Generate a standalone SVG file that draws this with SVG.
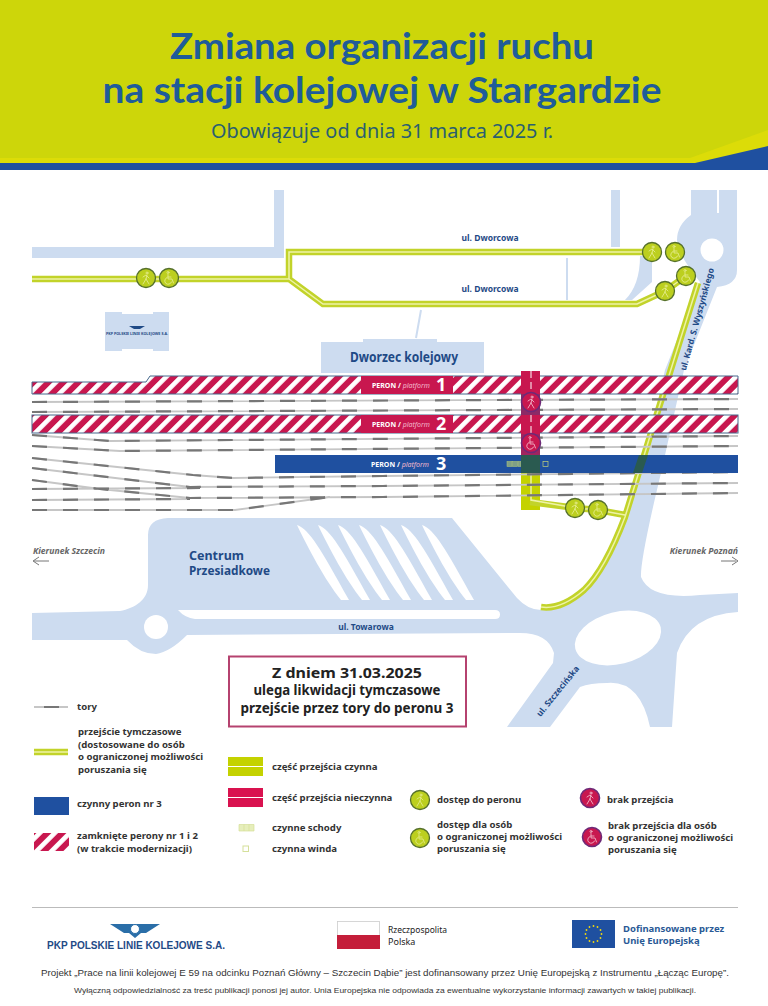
<svg xmlns="http://www.w3.org/2000/svg" width="768" height="1006" viewBox="0 0 768 1006">
<style>
text{font-family:"Noto Sans","Open Sans","Liberation Sans",sans-serif}
.ttl{font-family:Lato,"Noto Sans",sans-serif;font-size:36px;font-weight:700;fill:#1f5c99}
.road{fill:#cddcf0}
.lbl{fill:#1f4a86;font-weight:700;font-size:8.5px}
.leg{fill:#333;font-weight:700;font-size:9.6px}
.dir{fill:#666;font-weight:700;font-style:italic;font-size:8.6px}
.go{fill:none;stroke:#c2d32a;stroke-width:6.5}
.gi{fill:none;stroke:#eef3a6;stroke-width:1.5}
.tb{fill:none;stroke:#c6c6c6;stroke-width:1.8}
.td{fill:none;stroke:#777;stroke-width:2.2;stroke-dasharray:15 16}
.plat{stroke:#46688c;stroke-width:1}
.pt{fill:#fff;font-weight:700;font-size:7px}
.pi{fill:#f3b9cc;font-weight:400;font-style:italic;font-size:7px}
.pn{fill:#fff;font-weight:700;font-size:18px}
.ok{fill:#bccf1f;stroke:#55702c;stroke-width:1.3}
.no{fill:#c8174f;stroke:#6d2a78;stroke-width:1.6}
.ic{fill:none;stroke:#eef3a6;stroke-width:.9;stroke-linecap:round;opacity:.8}
.icl{fill:none;stroke:#eef3a6;stroke-width:.9;stroke-linecap:round;opacity:.75}
.icn{fill:none;stroke:#f8cfdc;stroke-width:.9;stroke-linecap:round;opacity:.85}
.st{fill:#7f9f86;stroke:#a8c07a;stroke-width:.6}
</style>
<defs>
<pattern id="hatch" patternUnits="userSpaceOnUse" width="10.6" height="10.6" patternTransform="rotate(45)">
<rect width="10.6" height="10.6" fill="#c8174f"/><rect width="4.7" height="10.6" fill="#fff"/>
</pattern>
<g id="ped"><circle cx="1" cy="-5" r="1"/><path d="M1-3 0 1M-3-1 0-3 3 0M0 1 3 6M0 1-3 6"/></g>
<g id="wc"><circle cx="-1" cy="-5.5" r="1"/><path d="M-1-3.500V1H3L4.500 5M-1-1H2M-2-.5A3.500 3.500 0 1 0 2.500 4"/></g>
</defs>
<rect width="768" height="1006" fill="#fff"/>
<g id="header">
<rect width="768" height="165" fill="#cdd60a"/>
<path d="M0 158H690L768 130V163H0Z" fill="#dcdc08"/>
<path d="M0 163H695L768 146V170H0Z" fill="#1f50a0"/>
<text class="ttl" x="382" y="59" text-anchor="middle" textLength="424" lengthAdjust="spacingAndGlyphs">Zmiana organizacji ruchu</text>
<text class="ttl" x="382" y="103" text-anchor="middle" textLength="559" lengthAdjust="spacingAndGlyphs">na stacji kolejowej w Stargardzie</text>
<text x="382" y="138" text-anchor="middle" font-size="20" fill="#2a5f70" textLength="342" lengthAdjust="spacingAndGlyphs">Obowiązuje od dnia 31 marca 2025 r.</text>
</g>
<g id="roads">
<path class="road" d="M32 247H274V190H284V258H32Z"/>
<path class="road" d="M611 190H620V247H611ZM640 256H652V282L632 300H625Q640 285 640 256Z"/>
<path class="road" d="M32 613L120 611C135 608 148 600 148 585V535Q148 519 168 518H452L517 598Q528 610 541 610Q561 610 584 593Q605 570 625 517L651 433L665 370L700 282Q678 255 677 240Q677 225 691 215V190H717V213H719V190H737V270Q737 285 717 287L684 370L661 473Q640 560 641 577Q650 600 700 595L738 593V612Q690 615 677 653L672 727H650Q640 680 607 683Q590 683 580 687L550 727H507L553 663L554 653Q548 633 520 633L187 635Q170 652 156 654Q140 654 127 640H32Z"/>
<circle cx="712" cy="250" r="11.500" fill="#fff"/>
<ellipse cx="618" cy="638" rx="44" ry="26" transform="rotate(-14 618 638)" fill="#fff"/>
<circle cx="156" cy="627" r="12" fill="#fff"/>
<path d="M178 610H495Q500 610 500 614.500Q500 619 495 619H195Q185 618 178 610Z" fill="#fff"/>
<g fill="#fff">
<path id="ps" d="M297 525C310 530 320 548 349 600H341C325 580 308 548 297 525Z"/>
<use href="#ps" x="21"/><use href="#ps" x="41"/><use href="#ps" x="62"/><use href="#ps" x="83"/><use href="#ps" x="104"/><use href="#ps" x="125"/>
</g>
<path d="M421 310 416 338M567 258V300" stroke="#cddcf0" stroke-width="2" fill="none"/>
</g>
<g id="pkp-building">
<path class="road" d="M105 312H122V314H153V312H169V351H153V349H122V351H105Z"/>
<path d="M129 326H145L140 329H134Z" fill="#1f4a86"/>
<text x="137" y="335" text-anchor="middle" font-size="3.700" font-weight="700" fill="#1f4a86">PKP POLSKIE LINIE KOLEJOWE S.A.</text>
</g>
<g id="dworzec">
<path class="road" d="M321 342H363V339H437V342H484V373H321Z"/>
<text x="404" y="362" text-anchor="middle" font-size="13.500" font-weight="700" fill="#1f4a86" textLength="108" lengthAdjust="spacingAndGlyphs">Dworzec kolejowy</text>
</g>
<g id="road-labels">
<text class="lbl" x="490" y="241" text-anchor="middle">ul. Dworcowa</text>
<text class="lbl" x="490" y="292" text-anchor="middle">ul. Dworcowa</text>
<text class="lbl" x="366" y="630" text-anchor="middle">ul. Towarowa</text>
<text class="lbl" transform="translate(700 320) rotate(-74.500)" text-anchor="middle">ul. Kard. S. Wyszyńskiego</text>
<text class="lbl" transform="translate(560 693) rotate(-51)" text-anchor="middle">ul. Szczecińska</text>
<text x="189" y="560" font-size="12.500" font-weight="700" fill="#1f4a86">Centrum</text>
<text x="189" y="575" font-size="12.500" font-weight="700" fill="#1f4a86" textLength="81" lengthAdjust="spacingAndGlyphs">Przesiadkowe</text>
<text class="dir" x="33" y="554">Kierunek Szczecin</text>
<text class="dir" x="738" y="554" text-anchor="end">Kierunek Poznań</text>
<path d="M49 561H34M39 557 33 561 39 565M721 561H736M732 557 738 561 732 565" fill="none" stroke="#777" stroke-width="1"/>
</g>
<g id="crossing-lower">
<rect x="521" y="473" width="19" height="37" fill="#c4d200"/>
</g>
<g id="connectors">
<path class="go" d="M32 279H289V252H652M289 279L323 304H637L665 291M665 291L686 276M698 283L651 433L625 517Q605 570 584 590Q561 610 541 607M530 502L576 508L598 510L625 515"/>
<path class="gi" d="M32 279H289V252H652M289 279L323 304H637L665 291M665 291L686 276M698 283L651 433L625 517Q605 570 584 590Q561 610 541 607M531 473V500L576 508L598 510L625 515"/>
</g>
<g id="tracks">
<path class="tb" d="M32 402 738 399M32 412 738 409M32 435 110 441 738 436M32 446 120 451 738 446M32 458 193 475 233 478 383 476 738 472M32 468 190 487 383 486 738 483M32 480 100 489 190 498 383 497 738 493M32 489 200 488M32 500 190 499M32 510 235 510 330 497"/>
<path class="td" d="M32 402 738 399M32 412 738 409M32 435 110 441 738 436M32 446 120 451 738 446M32 458 193 475 233 478 383 476 738 472M32 468 190 487 383 486 738 483M32 480 100 489 190 498 383 497 738 493M32 489 200 488M32 500 190 499M32 510 235 510 330 497"/>
</g>
<g id="platform-1">
<path class="plat" d="M32 382H146L150 376H738V394H32Z" fill="url(#hatch)"/>
<rect x="361" y="376" width="92" height="18" fill="#c8174f"/>
<text x="372" y="388" class="pt">PERON / <tspan class="pi">platform</tspan></text>
<text x="436" y="391" class="pn">1</text>
</g>
<g id="platform-2">
<rect class="plat" x="32" y="415" width="706" height="18" fill="url(#hatch)"/>
<rect x="361" y="415" width="92" height="18" fill="#c8174f"/>
<text x="372" y="427" class="pt">PERON / <tspan class="pi">platform</tspan></text>
<text x="436" y="430" class="pn">2</text>
</g>
<g id="platform-3">
<rect x="275" y="455" width="463" height="18" fill="#1f50a0"/>
<text x="371" y="467" class="pt">PERON / <tspan class="pi">platform</tspan></text>
<text x="436" y="470" class="pn">3</text>
<path d="M639 455H648L642 473H633Z" fill="#2a5a50"/>
<rect class="st" x="507" y="461.500" width="5" height="5"/><rect class="st" x="512.500" y="461.500" width="5" height="5"/><rect class="st" x="518" y="461.500" width="3" height="5"/>
<rect x="543" y="461.500" width="5" height="5" fill="none" stroke="#c4d27a" stroke-width=".7"/>
</g>
<g id="crossing">
<rect x="521" y="371" width="19" height="23" fill="#c8174f"/>
<rect x="521" y="394" width="19" height="21" fill="#8c2a66"/>
<rect x="521" y="415" width="19" height="19" fill="#c8174f"/>
<rect x="521" y="434" width="19" height="21" fill="#a0245f"/>
<rect x="521" y="455" width="19" height="18" fill="#2a5a50"/>
<path d="M531 371V434" stroke="#fff" stroke-width="1" stroke-dasharray="7 4"/>
</g>
<g id="no-ped"><circle class="no" cx="531" cy="402" r="9.500"/><use class="icn" href="#ped" x="531" y="402"/></g>
<g id="no-wc"><circle class="no" cx="531" cy="443" r="9.500"/><use class="icn" href="#wc" x="531" y="443"/></g>
<g id="n1"><circle class="ok" cx="146" cy="278" r="9.500"/><use class="ic" href="#ped" x="146" y="278"/></g>
<g id="n2"><circle class="ok" cx="169" cy="278" r="9.500"/><use class="ic" href="#wc" x="169" y="278"/></g>
<g id="n3"><circle class="ok" cx="652" cy="252" r="9.500"/><use class="ic" href="#ped" x="652" y="252"/></g>
<g id="n4"><circle class="ok" cx="675" cy="252" r="9.500"/><use class="ic" href="#wc" x="675" y="252"/></g>
<g id="n5"><circle class="ok" cx="665" cy="291" r="9.500"/><use class="ic" href="#ped" x="665" y="291"/></g>
<g id="n6"><circle class="ok" cx="686" cy="276" r="9.500"/><use class="ic" href="#wc" x="686" y="276"/></g>
<g id="n7"><circle class="ok" cx="575" cy="508" r="9.500"/><use class="ic" href="#ped" x="575" y="508"/></g>
<g id="n8"><circle class="ok" cx="598" cy="510" r="9.500"/><use class="ic" href="#wc" x="598" y="510"/></g>
<g id="notice">
<rect x="229" y="656.500" width="237" height="70" fill="#fff" stroke="#b5426f" stroke-width="2"/>
<text x="347" y="678" text-anchor="middle" font-size="14" font-weight="700" fill="#222" textLength="150" lengthAdjust="spacingAndGlyphs">Z dniem 31.03.2025</text>
<text x="347" y="695" text-anchor="middle" font-size="14" font-weight="700" fill="#222" textLength="187" lengthAdjust="spacingAndGlyphs">ulega likwidacji tymczasowe</text>
<text x="347" y="713" text-anchor="middle" font-size="14" font-weight="700" fill="#222" textLength="213" lengthAdjust="spacingAndGlyphs">przejście przez tory do peronu 3</text>
</g>
<g id="legend">
<path d="M34 707H68" stroke="#c6c6c6" stroke-width="2"/><path d="M44 707H59" stroke="#777" stroke-width="2"/>
<text class="leg" x="77" y="710">tory</text>
<path d="M34 752H68" stroke="#c2d32a" stroke-width="6.500"/><path d="M34 752H68" stroke="#eef3a6" stroke-width="1.300"/>
<text class="leg" x="78" y="735">przejście tymczasowe</text>
<text class="leg" x="78" y="748">(dostosowane do osób</text>
<text class="leg" x="78" y="760">o ograniczonej możliwości</text>
<text class="leg" x="78" y="773">poruszania się</text>
<rect x="34" y="797" width="35" height="18" fill="#1f50a0"/>
<text class="leg" x="77" y="807">czynny peron nr 3</text>
<rect x="34" y="833" width="35" height="18" fill="url(#hatch)"/>
<text class="leg" x="77" y="839">zamknięte perony nr 1 i 2</text>
<text class="leg" x="77" y="852">(w trakcie modernizacji)</text>
<rect x="228" y="757" width="35" height="19" fill="#c4d200"/><path d="M228 766.500H263" stroke="#fff" stroke-width="1"/>
<text class="leg" x="272" y="770">część przejścia czynna</text>
<rect x="228" y="788" width="35" height="19" fill="#d9124f"/><path d="M228 797.500H263" stroke="#fff" stroke-width="1"/>
<text class="leg" x="272" y="801">część przejścia nieczynna</text>
<path d="M239 824.500H254V831H239ZM244 824.500V831M249 824.500V831" fill="#e6eebb" stroke="#d5e09a" stroke-width=".7"/>
<text class="leg" x="272" y="831">czynne schody</text>
<rect x="243" y="846" width="5.500" height="5.500" fill="none" stroke="#d5e09a" stroke-width="1"/>
<text class="leg" x="272" y="852">czynna winda</text>
<circle class="ok" cx="420" cy="800" r="9.500"/><use class="icl" href="#ped" x="420" y="800"/>
<text class="leg" x="437" y="803">dostęp do peronu</text>
<circle class="ok" cx="420" cy="838" r="9.500"/><use class="icl" href="#wc" x="420" y="838"/>
<text class="leg" x="437" y="828">dostęp dla osób</text>
<text class="leg" x="437" y="840">o ograniczonej możliwości</text>
<text class="leg" x="437" y="852">poruszania się</text>
<circle class="no" cx="590" cy="798" r="9.500"/><use class="icn" href="#ped" x="590" y="798"/>
<text class="leg" x="607" y="803">brak przejścia</text>
<circle class="no" cx="592" cy="837" r="9.500"/><use class="icn" href="#wc" x="592" y="837"/>
<text class="leg" x="608" y="829">brak przejścia dla osób</text>
<text class="leg" x="608" y="841">o ograniczonej możliwości</text>
<text class="leg" x="608" y="853">poruszania się</text>
</g>
<g id="footer">
<path d="M32 907.500H738" stroke="#bbb" stroke-width="1"/>
<g id="pkp-logo">
<path d="M110 924H160L146 933H141L135 938L129 933H124Z" fill="#2a6ea8"/>
<circle cx="135" cy="929" r="4.500" fill="#fff" stroke="#2a6ea8"/>
<text x="136" y="949" text-anchor="middle" font-size="11.500" font-weight="700" fill="#1f4a86" textLength="178" lengthAdjust="spacingAndGlyphs" style="font-family:'Liberation Sans',sans-serif">PKP POLSKIE LINIE KOLEJOWE S.A.</text>
</g>
<g id="pl-flag">
<rect x="337.500" y="921.500" width="42" height="14" fill="#fff" stroke="#ccc" stroke-width=".8"/>
<rect x="337" y="935" width="43" height="14" fill="#c41e3a"/>
<text x="388" y="933" font-size="9" fill="#222" textLength="59" lengthAdjust="spacingAndGlyphs">Rzeczpospolita</text>
<text x="388" y="945" font-size="9" fill="#222">Polska</text>
</g>
<g id="eu-flag">
<rect x="572" y="920" width="43" height="28" fill="#1f50a0"/>
<g fill="#f4d90a"><circle cx="593.500" cy="926" r=".9"/><circle cx="597.500" cy="927" r=".9"/><circle cx="600.500" cy="930" r=".9"/><circle cx="601.500" cy="934" r=".9"/><circle cx="600.500" cy="938" r=".9"/><circle cx="597.500" cy="941" r=".9"/><circle cx="593.500" cy="942" r=".9"/><circle cx="589.500" cy="941" r=".9"/><circle cx="586.500" cy="938" r=".9"/><circle cx="585.500" cy="934" r=".9"/><circle cx="586.500" cy="930" r=".9"/><circle cx="589.500" cy="927" r=".9"/></g>
<text x="623" y="932" font-size="9.500" font-weight="700" fill="#2a5a96">Dofinansowane przez</text>
<text x="623" y="944" font-size="9.500" font-weight="700" fill="#2a5a96">Unię Europejską</text>
</g>
<text x="385" y="976" text-anchor="middle" font-size="9.300" fill="#333" textLength="688" lengthAdjust="spacingAndGlyphs" style="font-family:'Liberation Sans',sans-serif">Projekt „Prace na linii kolejowej E 59 na odcinku Poznań Główny – Szczecin Dąbie” jest dofinansowany przez Unię Europejską z Instrumentu „Łącząc Europę”.</text>
<text x="385" y="993" text-anchor="middle" font-size="7.700" fill="#333" textLength="622" lengthAdjust="spacingAndGlyphs" style="font-family:'Liberation Sans',sans-serif">Wyłączną odpowiedzialność za treść publikacji ponosi jej autor. Unia Europejska nie odpowiada za ewentualne wykorzystanie informacji zawartych w takiej publikacji.</text>
</g>
</svg>
